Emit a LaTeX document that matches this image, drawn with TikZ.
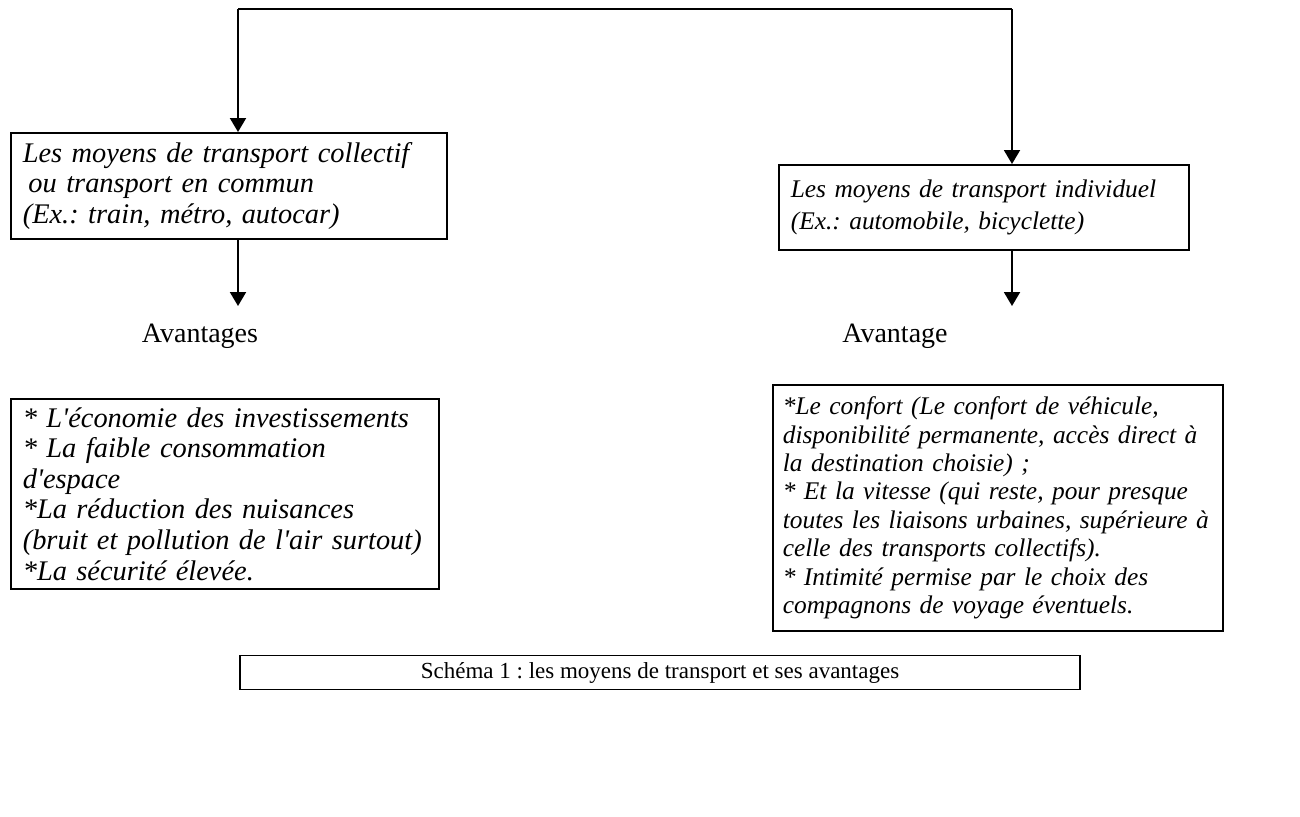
\documentclass[tikz,border=0pt]{standalone}
\usepackage{fontspec}
\setmainfont{Liberation Serif}
\usetikzlibrary{arrows.meta,calc}
\newcommand{\qt}{\textquotesingle}
\frenchspacing

\begin{document}
\begin{tikzpicture}[x=0.5pt,y=-0.5pt,
    box/.style={draw, line width=0.8pt, anchor=north west, align=left, inner xsep=6pt},
    bigtext/.style={font=\fontsize{14.2}{15.3}\selectfont\itshape},
    smalltext/.style={font=\fontsize{12.7}{14.2}\selectfont\itshape},
    title/.style={font=\fontsize{14}{16}\selectfont},
    arr/.style={line width=1pt, -{Triangle[width=8pt,length=7pt]}}]
    \useasboundingbox (0,0) rectangle (1300,816);

    % Top connector
    \coordinate (splitL) at (238,9);
    \coordinate (splitR) at (1012,9);
    \draw[line width=1pt] (splitL) -- (splitR);

    % Means of transport
    \node[box, bigtext, text width=206pt, inner ysep=4.7pt] (collectif) at (10,132)
        {Les moyens de transport collectif\\ \hspace{0.2em}ou transport en commun\\(Ex.: train, métro, autocar)};
    \node[box, smalltext, text width=193pt, inner ysep=7.5pt] (individuel) at (778,164)
        {Les moyens de transport individuel\\[1.8pt](Ex.: automobile, bicyclette)};

    \draw[arr] (splitL) -- (splitL |- collectif.north);
    \draw[arr] (splitR) -- (splitR |- individuel.north);

    % Advantages
    \coordinate (tipL) at (238,306);
    \coordinate (tipR) at (1012,306);
    \draw[arr] (collectif.south -| tipL) -- (tipL);
    \draw[arr] (individuel.south -| tipR) -- (tipR);

    \node[title] (avcol) at (200,336) {Avantages};
    \node[title] (avind) at (895,336) {Avantage};

    \node[box, bigtext, text width=202pt, inner ysep=4.3pt] (listcol) at (10,398)
        {* L\qt économie des investissements\\{}* La faible consommation\\d\qt espace\\{}*La réduction des nuisances\\(bruit et pollution de l\qt air surtout)\\{}*La sécurité élevée.};
    \node[box, smalltext, text width=215pt, inner xsep=5pt, inner ysep=6pt] (listind) at (772,384)
        {*Le confort (Le confort de véhicule,\\disponibilité permanente, accès direct à\\la destination choisie) ;\\{}* Et la vitesse (qui reste, pour presque\\toutes les liaisons urbaines, supérieure à\\celle des transports collectifs).\\{}* Intimité permise par le choix des\\compagnons de voyage éventuels.};

    % Caption
    \node[draw, line width=0.6pt, minimum width=420pt, minimum height=15.5pt,
        font=\fontsize{11.5}{13}\selectfont] (caption) at (660,672.5)
        {Schéma 1 : les moyens de transport et ses avantages};
\end{tikzpicture}
\end{document}
